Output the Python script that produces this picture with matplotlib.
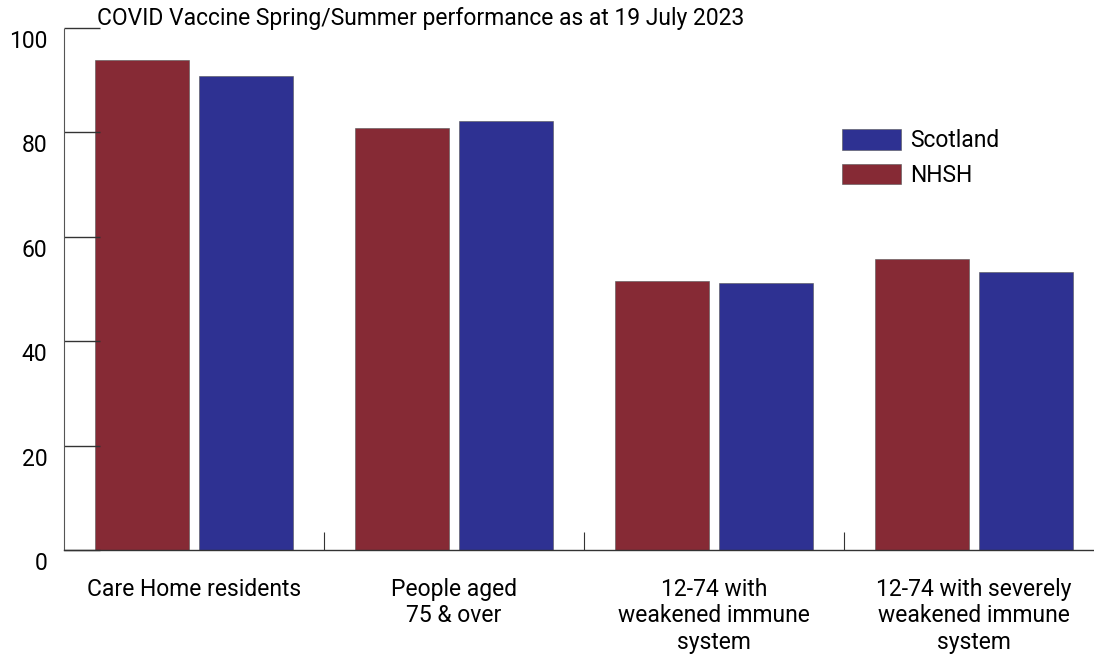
import numpy as np
import matplotlib.pyplot as plt
import matplotlib.transforms as mtransforms
from matplotlib.patches import Patch

plt.rcParams['font.family'] = ['Roboto', 'DejaVu Sans']

categories = ["Care Home residents", "People aged\n75 & over",
              "12-74 with\nweakened immune\nsystem",
              "12-74 with severely\nweakened immune\nsystem"]
nhsh = [93.9, 80.8, 51.5, 55.7]
scotland = [90.8, 82.2, 51.1, 53.3]
yticks = [0, 20, 40, 60, 80, 100]

c_nhsh = "#862a35"
c_scot = "#2e3192"

fig = plt.figure(figsize=(10.94, 6.55), dpi=100)
ax = fig.add_axes([64 / 1094, 105 / 655, 1040 / 1094, 522 / 655])

x = np.arange(len(categories))
w = 0.362
ax.bar(x - 0.2, nhsh, w, color=c_nhsh, edgecolor="#555555", linewidth=0.4)
ax.bar(x + 0.2, scotland, w, color=c_scot, edgecolor="#555555", linewidth=0.4)

ax.set_xlim(-0.5, 3.5)
ax.set_ylim(0, 100)

for s in ["top", "right"]:
    ax.spines[s].set_visible(False)
ax.spines["left"].set_linestyle((0, (1, 1)))
ax.spines["left"].set_color("#555555")
ax.spines["left"].set_linewidth(0.8)
ax.spines["bottom"].set_color("#333333")
ax.spines["bottom"].set_linewidth(1.0)

# y ticks point inward, labels sit a bit below the tick
ax.set_yticks(yticks)
ax.tick_params(axis="y", direction="in", length=26, width=1, color="#333333",
               labelsize=16.5, pad=12)
offset = mtransforms.ScaledTranslation(0, -11 / 100, fig.dpi_scale_trans)
for lab in ax.get_yticklabels():
    lab.set_transform(lab.get_transform() + offset)

# separator ticks between groups
ax.set_xticks([0.5, 1.5, 2.5])
ax.set_xticklabels([])
ax.tick_params(axis="x", direction="in", length=13, width=0.8, color="#333333")
for i, cat in enumerate(categories):
    ax.text(i, -5.4, cat, ha="center", va="top", fontsize=16.5,
            linespacing=1.18, transform=ax.transData)

fig.text(97 / 1094, 1 - 19 / 655, "COVID Vaccine Spring/Summer performance as at 19 July 2023",
         ha="left", va="center", fontsize=16.5)

handles = [Patch(facecolor=c_scot, edgecolor="#555555", linewidth=0.4, label="Scotland"),
           Patch(facecolor=c_nhsh, edgecolor="#555555", linewidth=0.4, label="NHSH")]
ax.legend(handles=handles, loc="upper left", bbox_to_anchor=(0.748, 0.806),
          frameon=False, fontsize=16.5, handlelength=2.58, handleheight=1.0,
          handletextpad=0.4, labelspacing=0.5, borderpad=0, borderaxespad=0)

fig.savefig("out.png", dpi=100)
